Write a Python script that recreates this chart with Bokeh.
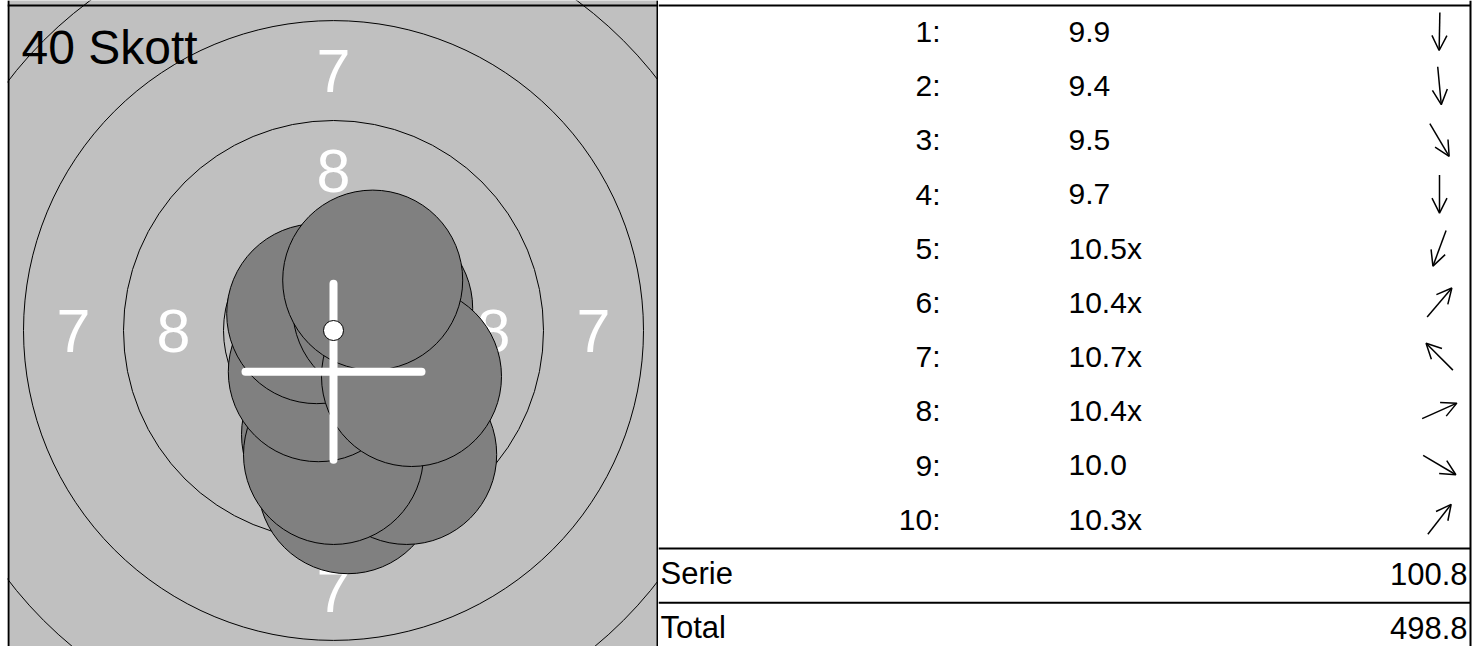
import math
from bokeh.plotting import figure
from bokeh.models import ColumnDataSource, Range1d, Label, Arrow, OpenHead, Span
from bokeh.layouts import row
from bokeh.core.properties import value
from bokeh.embed import file_html
from bokeh.resources import INLINE

# ---------------- data ----------------
title_text = "40 Skott"
shot_numbers = ["1:", "2:", "3:", "4:", "5:", "6:", "7:", "8:", "9:", "10:"]
shot_scores = ["9.9", "9.4", "9.5", "9.7", "10.5x", "10.4x", "10.7x", "10.4x", "10.0", "10.3x"]
# shot centres relative to target centre, millimetres (x right, y up)
shot_x_mm = [-0.05, 0.36, 1.83, 0.00, -0.38, 0.88, -0.42, 1.23, 1.95, 0.98]
shot_y_mm = [-2.60, -3.83, -3.10, -3.10, -1.03, 1.03, 0.42, 0.55, -1.15, 1.26]
summary_labels = ["Serie", "Total"]
summary_values = ["100.8", "498.8"]
ring_radius_mm = [2.75, 5.25, 7.75, 10.25, 12.75]
ring_label_text = ["8", "7"]
ring_label_radius_mm = [4.0, 6.5]
pellet_radius_mm = 2.25
ten_dot_radius_mm = 0.25
mpi_x_mm = 0.0
mpi_y_mm = -1.03

FONT = "Liberation Sans"

# ---------------- page geometry (pixels) ----------------
W_TARGET = 658      # canvas width of the target panel (incl. 7px white left border)
W_TABLE = 818
H = 646
PX_PER_MM = 40.0
CENTER_PX = (333, 330)   # target centre on page
TOP_LINE = 5
RIGHT_LINE = 1470


def X(px):
    return (px - CENTER_PX[0]) / PX_PER_MM


def Y(py):
    return (CENTER_PX[1] - py) / PX_PER_MM


# ---------------- target panel ----------------
tp = figure(width=W_TARGET, height=H,
            x_range=Range1d(X(7), X(W_TARGET)), y_range=Range1d(Y(H), Y(0)),
            output_backend="svg", toolbar_location=None,
            min_border=0, min_border_left=7,
            x_axis_location=None, y_axis_location=None,
            background_fill_color="#C0C0C0", border_fill_color="white",
            outline_line_color=None)
tp.grid.visible = False

# rings
tp.circle(x=[0] * len(ring_radius_mm), y=[0] * len(ring_radius_mm), radius=ring_radius_mm,
          fill_color=None, line_color="black", line_width=1)

# ring numbers
lx, ly, lt = [], [], []
for t, r in zip(ring_label_text, ring_label_radius_mm):
    for dx, dy in [(-1, 0), (1, 0), (0, 1), (0, -1)]:
        lx.append(dx * r)
        ly.append(dy * r)
        lt.append(t)
tp.text(x=lx, y=ly, text=lt, text_color="white", text_font=value(FONT),
        text_font_size="61px", text_align="center", text_baseline="middle")

# shots
tp.circle(x=shot_x_mm, y=shot_y_mm, radius=pellet_radius_mm,
          fill_color="#808080", line_color="black", line_width=1)

# mean point of impact cross
arm = 2.2
tp.segment(x0=[mpi_x_mm - arm, mpi_x_mm], y0=[mpi_y_mm, mpi_y_mm - arm],
           x1=[mpi_x_mm + arm, mpi_x_mm], y1=[mpi_y_mm, mpi_y_mm + arm],
           line_color="white", line_width=8, line_cap="round")

# ten dot
tp.circle(x=[0], y=[0], radius=ten_dot_radius_mm, fill_color="white",
          line_color="black", line_width=1)

tp.add_layout(Label(x=X(21), y=Y(46.7), text=title_text, text_font=FONT,
                    text_font_size="48px", text_color="black",
                    text_baseline="alphabetic", text_align="left"))

# panel borders
tp.add_layout(Span(location=X(8), dimension="height", line_color="black", line_width=2))
tp.add_layout(Span(location=X(657), dimension="height", line_color="black", line_width=2))
tp.add_layout(Span(location=Y(TOP_LINE), dimension="width", line_color="black", line_width=2))

# ---------------- table panel ----------------
X0 = W_TARGET
tb = figure(width=W_TABLE, height=H, x_range=Range1d(X0, X0 + W_TABLE), y_range=Range1d(H, 0),
            output_backend="svg", toolbar_location=None, min_border=0,
            x_axis_location=None, y_axis_location=None,
            background_fill_color="white", border_fill_color="white",
            outline_line_color=None)
tb.grid.visible = False

ROW_H = 54.2
n = len(shot_scores)
row_y = [TOP_LINE + 26 + ROW_H * i for i in range(n)]
tb.text(x=[940] * n, y=row_y, text=shot_numbers, text_font=value(FONT),
        text_font_size="30px", text_align="right", text_baseline="middle", text_color="black")
tb.text(x=[1068] * n, y=row_y, text=shot_scores, text_font=value(FONT),
        text_font_size="30px", text_align="left", text_baseline="middle", text_color="black")

# direction arrows (page y grows downward)
AL = 38.0
AX = 1439.0
x0, y0, x1, y1 = [], [], [], []
for sx, sy, cy in zip(shot_x_mm, shot_y_mm, row_y):
    d = math.hypot(sx, sy)
    ux, uy = sx / d, -sy / d
    x0.append(AX - AL / 2 * ux)
    y0.append(cy - AL / 2 * uy)
    x1.append(AX + AL / 2 * ux)
    y1.append(cy + AL / 2 * uy)
asrc = ColumnDataSource(dict(x0=x0, y0=y0, x1=x1, y1=y1))
tb.add_layout(Arrow(end=OpenHead(size=15, line_width=1.5, line_color="black"),
                    x_start="x0", y_start="y0", x_end="x1", y_end="y1",
                    source=asrc, line_width=1.5, line_color="black"))

# summary rows
m = len(summary_labels)
sum_y = [TOP_LINE + 26 + ROW_H * (n + i) for i in range(m)]
line_y = [TOP_LINE + 1 + ROW_H * (n + i) for i in range(m)]
tb.segment(x0=[X0] * m, x1=[RIGHT_LINE] * m, y0=line_y, y1=line_y,
           line_color="black", line_width=2)
tb.text(x=[660] * m, y=sum_y, text=summary_labels, text_font=value(FONT),
        text_font_size="31px", text_align="left", text_baseline="middle", text_color="black")
tb.text(x=[1467] * m, y=sum_y, text=summary_values, text_font=value(FONT),
        text_font_size="31px", text_align="right", text_baseline="middle", text_color="black")

# table borders
tb.segment(x0=[X0, RIGHT_LINE], y0=[TOP_LINE, 0], x1=[RIGHT_LINE, RIGHT_LINE], y1=[TOP_LINE, H],
           line_color="black", line_width=2)

layout = row(tp, tb)
open("out.html", "w").write(file_html(layout, INLINE))
